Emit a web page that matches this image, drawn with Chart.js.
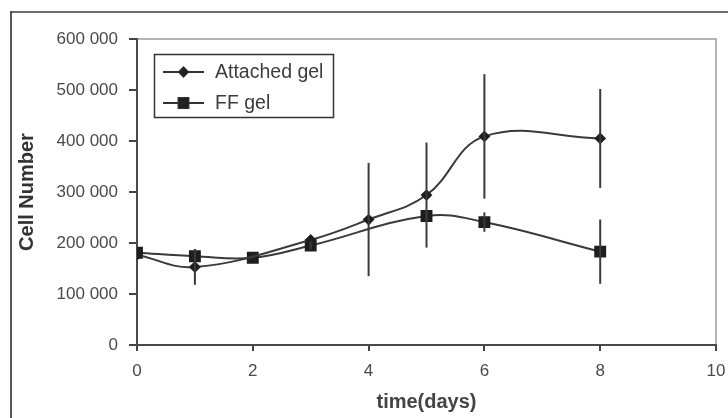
<!DOCTYPE html>
<html>
<head>
<meta charset="utf-8">
<script src="https://cdn.jsdelivr.net/npm/chart.js@4/dist/chart.umd.min.js"></script>
<style>
  html, body { margin: 0; padding: 0; background: #ffffff; }
  #wrap { position: relative; width: 728px; height: 418px; }
</style>
</head>
<body>
<div id="wrap"><canvas id="c" width="728" height="418"></canvas></div>
<script>
// ---- data ----
const days = [0, 1, 2, 3, 4, 5, 6, 8];
const attachedLabel = 'Attached gel';
const attachedValues = [177000, 153000, null, 206000, 246000, 294000, 409000, 405000];
const attachedErrors = [0, 35000, 0, 0, 111000, 103000, 122000, 97000];
const ffLabel = 'FF gel';
const ffValues = [181000, 174000, 171000, 195000, null, 253000, 241000, 183000];
const ffErrors = [0, 14000, 0, 8000, 0, 8000, 19000, 63000];
const xTicks = [0, 2, 4, 6, 8, 10];
const yTicks = [0, 100000, 200000, 300000, 400000, 500000, 600000];
const xTitle = 'time(days)';
const yTitle = 'Cell Number';

const toPoints = (vals) => days.map((d, i) => ({ x: d, y: vals[i] }));
const fmt = (v) => String(v).replace(/\B(?=(\d{3})+(?!\d))/g, ' ');

const errorBars = {
  id: 'errorBars',
  afterDatasetsDraw(chart) {
    const ctx = chart.ctx;
    const xs = chart.scales.x, ys = chart.scales.y;
    ctx.save();
    ctx.strokeStyle = '#3a3a3a';
    ctx.lineWidth = 2;
    chart.data.datasets.forEach((ds) => {
      ds.data.forEach((p, i) => {
        const e = ds.errors[i];
        if (p.y == null || !e) return;
        const px = xs.getPixelForValue(p.x);
        ctx.beginPath();
        ctx.moveTo(px, ys.getPixelForValue(p.y + e));
        ctx.lineTo(px, ys.getPixelForValue(p.y - e));
        ctx.stroke();
      });
    });
    ctx.restore();
  }
};

const frame = {
  id: 'frame',
  beforeDraw(chart) {
    const ctx = chart.ctx;
    const a = chart.chartArea;
    ctx.save();
    // outer figure frame
    ctx.strokeStyle = '#6e6e6e';
    ctx.lineWidth = 2;
    ctx.beginPath();
    ctx.moveTo(11, 12); ctx.lineTo(728, 12);
    ctx.stroke();
    ctx.strokeStyle = '#222';
    ctx.lineWidth = 1.5;
    ctx.beginPath();
    ctx.moveTo(11, 11); ctx.lineTo(11, 418);
    ctx.stroke();
    // plot area top/right border
    ctx.strokeStyle = '#b4b4b4';
    ctx.lineWidth = 2;
    ctx.beginPath();
    ctx.moveTo(a.left, a.top); ctx.lineTo(a.right, a.top); ctx.lineTo(a.right, a.bottom);
    ctx.stroke();
    ctx.restore();
  },
  afterDraw(chart) {
    // legend box inside plot
    const ctx = chart.ctx;
    ctx.save();
    ctx.strokeStyle = '#333';
    ctx.lineWidth = 1.5;
    ctx.strokeRect(154.5, 54.5, 179, 63);
    const entries = [
      { ds: chart.data.datasets[0], y: 72 },
      { ds: chart.data.datasets[1], y: 103 }
    ];
    entries.forEach((en) => {
      ctx.strokeStyle = '#333';
      ctx.lineWidth = 2;
      ctx.beginPath();
      ctx.moveTo(163, en.y); ctx.lineTo(204, en.y);
      ctx.stroke();
      Chart.helpers.drawPoint(ctx, {
        pointStyle: en.ds.pointStyle, radius: en.ds.pointRadius, borderWidth: 1
      }, 183.5, en.y);
      ctx.fillStyle = '#222';
      ctx.fill();
      ctx.fillStyle = '#3c3c3c';
      ctx.font = '19.5px "Liberation Sans", Arial, sans-serif';
      ctx.textBaseline = 'middle';
      ctx.textAlign = 'left';
      ctx.fillText(en.ds.label, 215, en.y + 1);
    });
    ctx.restore();
  }
};

new Chart(document.getElementById('c'), {
  type: 'line',
  data: {
    datasets: [
      {
        label: attachedLabel,
        data: toPoints(attachedValues),
        errors: attachedErrors,
        borderColor: '#3a3a3a',
        borderWidth: 2,
        backgroundColor: '#1e1e1e',
        pointBackgroundColor: '#1e1e1e',
        pointBorderColor: '#1e1e1e',
        pointStyle: 'rectRot',
        pointRadius: 4.5,
        tension: 0.4,
        spanGaps: true
      },
      {
        label: ffLabel,
        data: toPoints(ffValues),
        errors: ffErrors,
        borderColor: '#3a3a3a',
        borderWidth: 2,
        backgroundColor: '#1e1e1e',
        pointBackgroundColor: '#1e1e1e',
        pointBorderColor: '#1e1e1e',
        pointStyle: 'rect',
        pointRadius: 7,
        tension: 0.4,
        spanGaps: true
      }
    ]
  },
  options: {
    responsive: false,
    animation: false,
    layout: { padding: { left: 12, top: 39, right: 12, bottom: 0 } },
    plugins: { legend: { display: false }, tooltip: { enabled: false } },
    scales: {
      x: {
        type: 'linear',
        min: 0, max: 10,
        afterBuildTicks(s) { s.ticks = xTicks.map(v => ({ value: v })); },
        afterFit(s) { s.height = 73; s.paddingRight = 0; s.paddingLeft = 0; },
        grid: { drawOnChartArea: false, drawTicks: true, tickLength: 6, color: '#444', lineWidth: 2 },
        border: { display: true, color: '#4a4a4a', width: 2 },
        ticks: { color: '#4a4a4a', padding: 10, font: { family: '"Liberation Sans", Arial, sans-serif', size: 17 }, maxRotation: 0 },
        title: { display: true, text: xTitle, color: '#444', padding: { top: 0, bottom: 4 }, font: { family: '"Liberation Sans", Arial, sans-serif', size: 20, weight: 'bold' } }
      },
      y: {
        type: 'linear',
        min: 0, max: 600000,
        afterBuildTicks(s) { s.ticks = yTicks.map(v => ({ value: v })); },
        afterFit(s) { s.width = 125; },
        grid: { drawOnChartArea: false, drawTicks: true, tickLength: 8, color: '#444', lineWidth: 2 },
        border: { display: true, color: '#4a4a4a', width: 2 },
        ticks: { color: '#4a4a4a', padding: 11, callback: (v) => fmt(v), font: { family: '"Liberation Sans", Arial, sans-serif', size: 17 } },
        title: { display: true, text: yTitle, color: '#333', padding: { top: 3, bottom: 0 }, font: { family: '"Liberation Sans", Arial, sans-serif', size: 20, weight: 'bold' } }
      }
    }
  },
  plugins: [frame, errorBars]
});
</script>
</body>
</html>
